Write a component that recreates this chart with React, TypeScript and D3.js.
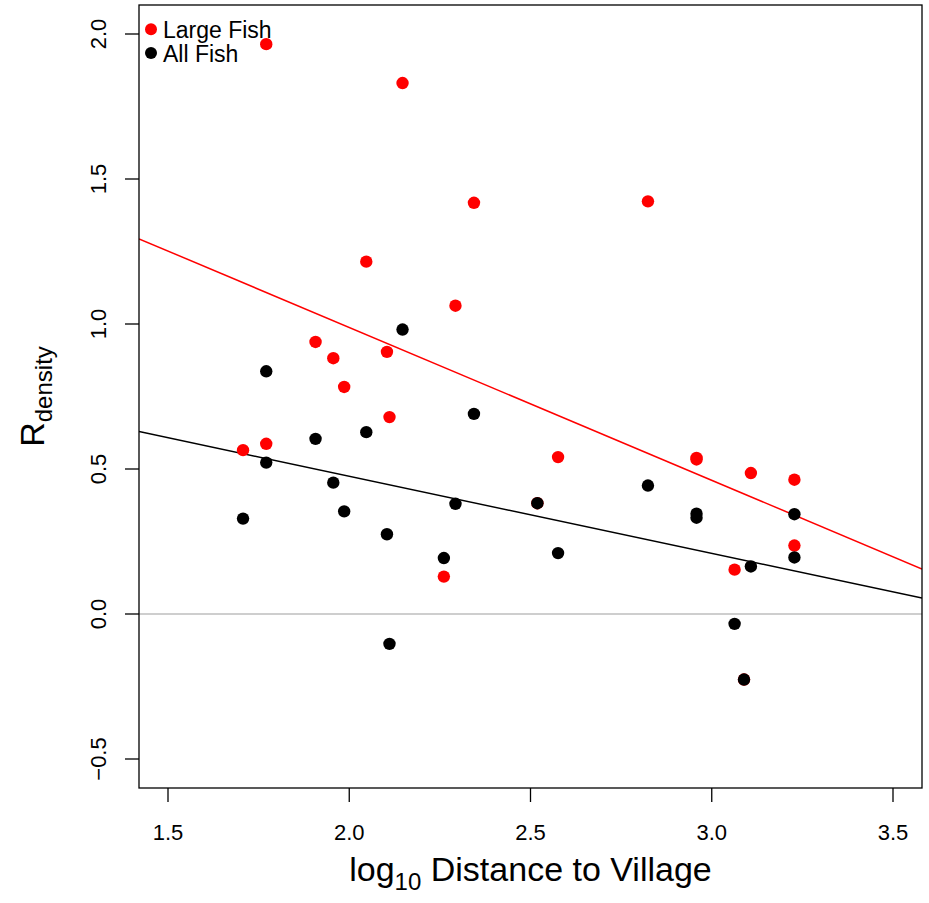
import React from "react";
import * as d3 from "d3";

// Site positions (log10 distance to village)
const siteX = [1.707, 1.771, 1.771, 1.907, 1.956, 1.986, 2.047, 2.104, 2.111, 2.147, 2.261, 2.293, 2.344, 2.519, 2.576, 2.824, 2.958, 2.958, 3.063, 3.089, 3.108, 3.228, 3.228];
// R density, large fish
const largeFish = [0.565, 1.965, 0.587, 0.938, 0.882, 0.783, 1.215, 0.904, 0.679, 1.831, 0.129, 1.063, 1.418, 0.382, 0.541, 1.423, 0.533, 0.538, 0.153, -0.226, 0.486, 0.463, 0.236];
// R density, all fish
const allFish = [0.329, 0.837, 0.522, 0.604, 0.453, 0.354, 0.627, 0.275, -0.103, 0.981, 0.193, 0.380, 0.690, 0.382, 0.210, 0.443, 0.346, 0.332, -0.034, -0.226, 0.164, 0.344, 0.195];

// Fitted lines (intercept, slope)
const largeFit = [2.042, -0.527];
const allFit = [1.007, -0.266];

const xTicks = [1.5, 2.0, 2.5, 3.0, 3.5];
const yTicks = [-0.5, 0.0, 0.5, 1.0, 1.5, 2.0];
const xLim = [1.5, 3.5];
const yLim = [-0.5, 2.0];

const legendItems = [
  { label: "Large Fish", color: "#ff0000" },
  { label: "All Fish", color: "#000000" },
];

const W = 929;
const H = 903;
const plot = { left: 139, right: 922, top: 5, bottom: 788 };
const FONT = "'Liberation Sans', Arial, Helvetica, sans-serif";

function ext(l: number[]) {
  const d = (l[1] - l[0]) * 0.04;
  return [l[0] - d, l[1] + d];
}

export default function App() {
  const xd = ext(xLim);
  const yd = ext(yLim);
  const x = d3.scaleLinear().domain(xd).range([plot.left, plot.right]);
  const y = d3.scaleLinear().domain(yd).range([plot.bottom, plot.top]);
  const line = d3
    .line<number>()
    .x((v) => x(v[0]))
    .y((v) => y(v[1]));
  const fitPath = (f: number[]) =>
    line([
      [xd[0], f[0] + f[1] * xd[0]],
      [xd[1], f[0] + f[1] * xd[1]],
    ] as any);
  const fmt = d3.format(".1f");
  const lab = (v: number) => fmt(v).replace("-", "\u2212");

  return (
    <svg
      width={W}
      height={H}
      style={{ position: "absolute", left: 0, top: 0, background: "#fff" }}
      fontFamily={FONT}
    >
      <defs>
        <clipPath id="pc">
          <rect x={plot.left} y={plot.top} width={plot.right - plot.left} height={plot.bottom - plot.top} />
        </clipPath>
      </defs>
      <rect x={0} y={0} width={W} height={H} fill="#fff" />
      <g clipPath="url(#pc)">
        <line x1={plot.left} x2={plot.right} y1={y(0)} y2={y(0)} stroke="#bebebe" strokeWidth={1.3} />
        <path d={fitPath(largeFit) || ""} stroke="#ff0000" strokeWidth={1.5} fill="none" />
        <path d={fitPath(allFit) || ""} stroke="#000" strokeWidth={1.5} fill="none" />
        {siteX.map((sx, i) => (
          <circle key={"l" + i} cx={x(sx)} cy={y(largeFish[i])} r={6.2} fill="#ff0000" />
        ))}
        {siteX.map((sx, i) => (
          <circle key={"a" + i} cx={x(sx)} cy={y(allFish[i])} r={6.2} fill="#000" />
        ))}
      </g>
      <rect
        x={plot.left}
        y={plot.top}
        width={plot.right - plot.left}
        height={plot.bottom - plot.top}
        fill="none"
        stroke="#000"
        strokeWidth={1.3}
      />
      {xTicks.map((t) => (
        <g key={"xt" + t}>
          <line x1={x(t)} x2={x(t)} y1={plot.bottom} y2={plot.bottom + 14} stroke="#000" strokeWidth={1.3} />
          <text x={x(t)} y={840} fontSize={22} textAnchor="middle">
            {lab(t)}
          </text>
        </g>
      ))}
      {yTicks.map((t) => (
        <g key={"yt" + t}>
          <line x1={plot.left - 14} x2={plot.left} y1={y(t)} y2={y(t)} stroke="#000" strokeWidth={1.3} />
          <text transform={`translate(106,${y(t)}) rotate(-90)`} fontSize={22} textAnchor="middle">
            {lab(t)}
          </text>
        </g>
      ))}
      <text x={(plot.left + plot.right) / 2} y={881} fontSize={34} textAnchor="middle">
        log
        <tspan fontSize={24} dy={9}>10</tspan>
        <tspan dy={-9}> Distance to Village</tspan>
      </text>
      <text
        transform={`translate(44,${(plot.top + plot.bottom) / 2}) rotate(-90)`}
        fontSize={34}
        textAnchor="middle"
      >
        R
        <tspan fontSize={24} dy={8}>density</tspan>
      </text>
      {legendItems.map((it, i) => (
        <g key={it.label}>
          <circle cx={151} cy={29.3 + i * 23.6} r={6} fill={it.color} />
          <text x={163} y={37.7 + i * 24} fontSize={23}>
            {it.label}
          </text>
        </g>
      ))}
    </svg>
  );
}
